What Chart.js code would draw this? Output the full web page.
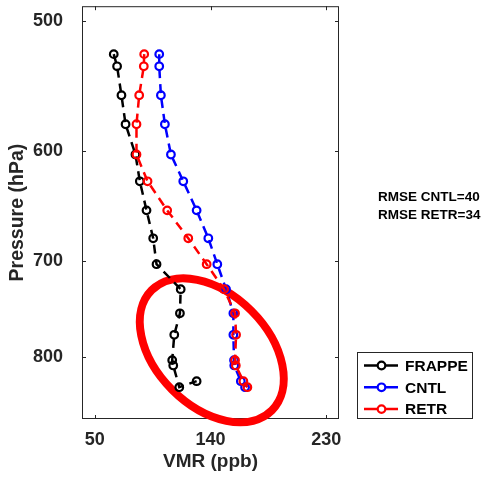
<!DOCTYPE html>
<html>
<head>
<meta charset="utf-8">
<title>VMR profile</title>
<script src="https://cdn.jsdelivr.net/npm/chart.js@4.4.1/dist/chart.umd.min.js"></script>
<style>
  html, body { margin: 0; padding: 0; background: #fff; }
  #wrap { width: 483px; height: 478px; }
</style>
</head>
<body>
<div id="wrap"><canvas id="profileChart" width="483" height="478"></canvas></div>
<script>
// --- profile data (pressure in hPa, VMR in ppb) ---
const modelPressure = [524, 533, 555, 578, 603, 626, 652, 678, 703, 728, 753, 776, 804, 810, 828, 835];
const frappePressure = [524, 533, 555, 578, 603, 626, 652, 678, 703, 728, 753, 776, 804, 810, 835, 828];
const frappeVmr = [64.7, 67.3, 70.7, 73.9, 81.6, 85.0, 90.2, 95.4, 98.0, 116.8, 116.2, 111.8, 110.2, 111.0, 115.7, 129.2];
const cntlVmr = [100.1, 100.1, 101.4, 104.5, 109.2, 118.8, 129.2, 138.3, 145.3, 152.1, 157.8, 157.8, 158.3, 158.5, 163.6, 166.9];
const retrVmr = [88.4, 88.1, 84.5, 82.4, 82.4, 91.0, 106.3, 122.7, 137.0, 150.5, 159.1, 159.9, 159.1, 159.7, 165.6, 168.7];

const xTicks = [50, 140, 230];
const yTicks = [500, 600, 700, 800];
const rmseLines = ['RMSE CNTL=40', 'RMSE RETR=34'];

// highlighted region: centre in data units, radii in px
const highlight = { vmr: 141, pressure: 793, rx: 85, ry: 56, angle: 45 };

const FONT = '"Liberation Sans", Arial, Helvetica, sans-serif';
const AXIS_COLOR = '#262626';
Chart.defaults.font.family = FONT;

const toPoints = (xs, ps) => ps.map((p, i) => ({ x: xs[i], y: p }));

const lineStyle = (color) => ({
    borderColor: color,
    backgroundColor: color,
    pointBorderColor: color,
    pointBackgroundColor: 'rgba(0,0,0,0)',
    borderWidth: 2.5,
    borderDash: [9, 6],
    pointRadius: 3.8,
    pointBorderWidth: 2.2,
    showLine: true,
    fill: false,
    tension: 0
});

// --- box around the plot with inward ticks ---
const boxAxes = {
    id: 'boxAxes',
    beforeDatasetsDraw(chart) {
        const { ctx, chartArea: a, scales: { x, y } } = chart;
        ctx.save();
        ctx.strokeStyle = AXIS_COLOR;
        ctx.lineWidth = 1;
        ctx.strokeRect(a.left + 0.5, a.top + 0.5, a.right - a.left - 1, a.bottom - a.top - 1);
        ctx.beginPath();
        xTicks.forEach(v => {
            const px = Math.round(x.getPixelForValue(v)) + 0.5;
            ctx.moveTo(px, a.bottom); ctx.lineTo(px, a.bottom - 4);
            ctx.moveTo(px, a.top); ctx.lineTo(px, a.top + 4);
        });
        yTicks.forEach(v => {
            const py = Math.round(y.getPixelForValue(v)) + 0.5;
            ctx.moveTo(a.left, py); ctx.lineTo(a.left + 4, py);
            ctx.moveTo(a.right, py); ctx.lineTo(a.right - 4, py);
        });
        ctx.stroke();
        ctx.restore();
    }
};

// --- red ring drawn under the profiles ---
const ellipseMark = {
    id: 'ellipseMark',
    beforeDatasetsDraw(chart) {
        const { ctx, scales: { x, y } } = chart;
        const cx = x.getPixelForValue(highlight.vmr);
        const cy = y.getPixelForValue(highlight.pressure);
        ctx.save();
        ctx.strokeStyle = '#ff0000';
        ctx.lineWidth = 8;
        ctx.beginPath();
        ctx.ellipse(cx, cy, highlight.rx, highlight.ry, highlight.angle * Math.PI / 180, 0, Math.PI * 2);
        ctx.stroke();
        ctx.restore();
    }
};

// --- RMSE notes and legend on the right ---
const sideNotes = {
    id: 'sideNotes',
    afterDraw(chart) {
        const { ctx } = chart;
        ctx.save();
        ctx.textBaseline = 'middle';
        ctx.textAlign = 'left';
        ctx.fillStyle = '#000';
        ctx.font = 'bold 13.5px ' + FONT;
        rmseLines.forEach((t, i) => ctx.fillText(t, 378, 197 + i * 18));

        ctx.strokeStyle = AXIS_COLOR;
        ctx.lineWidth = 1;
        ctx.strokeRect(357.5, 352.5, 115, 66);

        ctx.font = 'bold 15.5px ' + FONT;
        chart.data.datasets.forEach((ds, i) => {
            const yy = 365.5 + i * 21.8;
            ctx.strokeStyle = ds.borderColor;
            ctx.lineWidth = 2.5;
            ctx.beginPath();
            ctx.moveTo(364, yy); ctx.lineTo(377, yy);
            ctx.moveTo(386, yy); ctx.lineTo(398, yy);
            ctx.stroke();
            ctx.lineWidth = 2.2;
            ctx.beginPath();
            ctx.arc(381.5, yy, 3.8, 0, Math.PI * 2);
            ctx.stroke();
            ctx.fillStyle = '#000';
            ctx.fillText(ds.label, 405, yy + 1);
        });
        ctx.restore();
    }
};

const profileChart = new Chart(document.getElementById('profileChart'), {
    type: 'scatter',
    data: {
        datasets: [
            { label: 'FRAPPE', data: toPoints(frappeVmr, frappePressure), order: 3, ...lineStyle('#000000') },
            { label: 'CNTL', data: toPoints(cntlVmr, modelPressure), order: 2, ...lineStyle('#0000ff') },
            { label: 'RETR', data: toPoints(retrVmr, modelPressure), order: 1, ...lineStyle('#ff0000') }
        ]
    },
    options: {
        responsive: false,
        animation: false,
        events: [],
        layout: { padding: { left: 0, top: 4, right: 144, bottom: 0 } },
        plugins: {
            legend: { display: false },
            tooltip: { enabled: false }
        },
        scales: {
            x: {
                type: 'linear',
                min: 40,
                max: 240,
                grid: { display: false, drawTicks: false },
                border: { display: false },
                afterBuildTicks: s => { s.ticks = xTicks.map(v => ({ value: v })); },
                afterFit: s => { s.height = 59; s.paddingLeft = 0; s.paddingRight = 0; },
                ticks: {
                    color: AXIS_COLOR,
                    font: { size: 18, weight: 'bold' },
                    padding: 10,
                    maxRotation: 0,
                    autoSkip: false,
                    callback: v => String(v)
                },
                title: {
                    display: true,
                    text: 'VMR (ppb)',
                    color: AXIS_COLOR,
                    font: { size: 19, weight: 'bold' },
                    padding: { top: 0, bottom: 5 }
                }
            },
            y: {
                type: 'logarithmic',
                reverse: true,
                min: 490,
                max: 873,
                grid: { display: false, drawTicks: false },
                border: { display: false },
                afterBuildTicks: s => { s.ticks = yTicks.map(v => ({ value: v })); },
                afterFit: s => { s.width = 82; s.paddingTop = 0; s.paddingBottom = 0; },
                ticks: {
                    color: AXIS_COLOR,
                    font: { size: 18, weight: 'bold' },
                    padding: 19,
                    autoSkip: false,
                    callback: v => String(v)
                },
                title: {
                    display: true,
                    text: 'Pressure (hPa)',
                    color: AXIS_COLOR,
                    font: { size: 19.5, weight: 'bold' },
                    padding: { top: 6, bottom: 0 }
                }
            }
        }
    },
    plugins: [boxAxes, ellipseMark, sideNotes]
});
</script>
</body>
</html>
